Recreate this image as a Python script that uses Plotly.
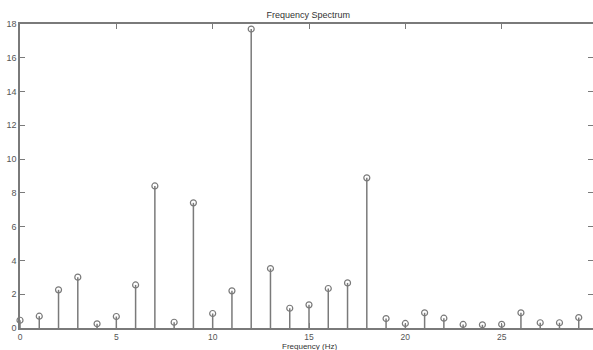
import plotly.graph_objects as go

freq = list(range(30))
magnitude = [0.46, 0.70, 2.26, 3.01, 0.25, 0.68, 2.55, 8.41, 0.34, 7.41,
             0.86, 2.20, 17.70, 3.52, 1.17, 1.37, 2.34, 2.67, 8.89, 0.56,
             0.27, 0.90, 0.58, 0.21, 0.19, 0.22, 0.90, 0.31, 0.31, 0.62]
x_ticks = [0, 5, 10, 15, 20, 25]
y_ticks = [0, 2, 4, 6, 8, 10, 12, 14, 16, 18]

col = "#7a7a7a"
fam = "Liberation Sans, Arial, sans-serif"

sx, sy = [], []
for f, m in zip(freq, magnitude):
    sx += [f, f, None]
    sy += [0, m, None]

fig = go.Figure()
fig.add_trace(go.Scatter(x=sx, y=sy, mode="lines", line=dict(color=col, width=1.5),
                         hoverinfo="skip", showlegend=False, cliponaxis=False))
fig.add_trace(go.Scatter(x=freq, y=magnitude, mode="markers", cliponaxis=False,
                         marker=dict(symbol="circle-open", size=6, color=col,
                                     line=dict(width=1.2, color=col)),
                         showlegend=False))
fig.add_trace(go.Scatter(x=[None], y=[None], yaxis="y2", showlegend=False))

fig.update_layout(
    width=593, height=350,
    margin=dict(l=20, r=0, t=24, b=22, autoexpand=False),
    paper_bgcolor="white", plot_bgcolor="white",
    font=dict(family=fam, size=9, color="#444"),
    title=dict(text="Frequency Spectrum", x=0.52, xanchor="center", y=1 - 15 / 350,
               yanchor="middle", font=dict(size=9, color="#333")),
    xaxis=dict(range=[0, 29.74], tickvals=x_ticks, ticks="inside", ticklen=5,
               tickcolor=col, showline=True, linecolor=col, linewidth=1.5,
               mirror="ticks", showgrid=False, zeroline=False, automargin=False,
               tickfont=dict(size=8.5, color="#555")),
    yaxis=dict(range=[0, 18], tickvals=y_ticks, ticks="inside", ticklen=5,
               tickcolor=col, showline=True, linecolor=col, linewidth=1.5,
               showgrid=False, zeroline=False, automargin=False,
               tickfont=dict(size=9, color="#555")),
    yaxis2=dict(range=[0, 18], tickvals=y_ticks, ticks="inside", ticklen=5,
                tickcolor=col, overlaying="y", side="right", showticklabels=False,
                showline=False, showgrid=False, zeroline=False, automargin=False),
    annotations=[dict(text="Frequency (Hz)", xref="paper", yref="paper",
                      x=0.505, y=-13 / 304, xanchor="center", yanchor="top",
                      borderpad=0, showarrow=False, font=dict(size=8, color="#333"))],
)
fig.write_html("out.html", config={"displayModeBar": False},
               post_script="document.body.style.margin='0';document.body.style.overflow='hidden';")
